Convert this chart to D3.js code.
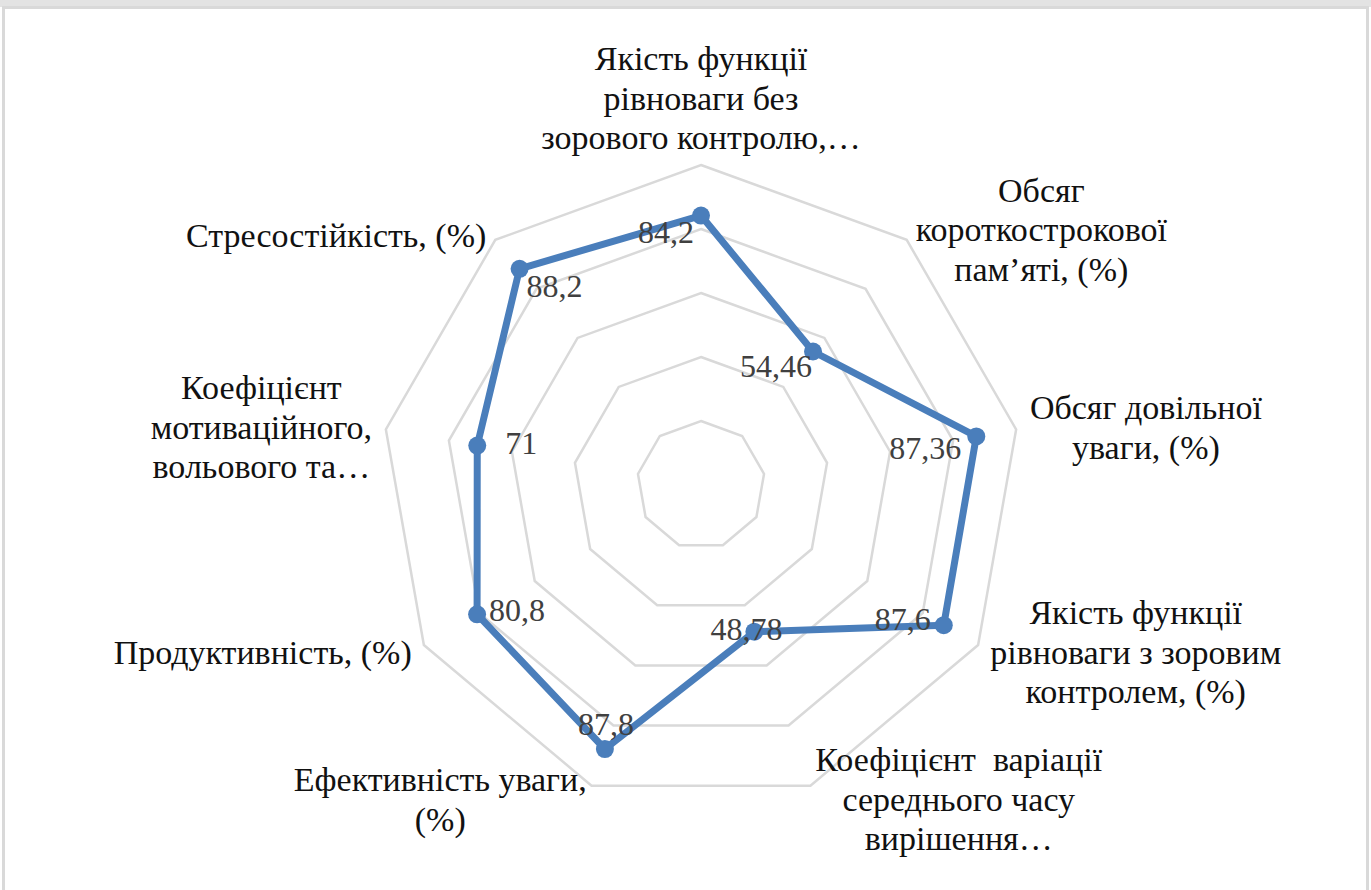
<!DOCTYPE html>
<html>
<head>
<meta charset="utf-8">
<script src="https://cdn.jsdelivr.net/npm/d3@7"></script>
<style>
  html, body { margin: 0; padding: 0; background: #ffffff; }
  svg { display: block; }
  text { white-space: pre; }
</style>
</head>
<body>
<svg id="chart" width="1371" height="890"></svg>
<script>
// categories (clockwise from the top) and the values of the single series
const categories = [
    ["Якість функції", "рівноваги без", "зорового контролю,…"],
    ["Обсяг", "короткострокової", "пам’яті, (%)"],
    ["Обсяг довільної", "уваги, (%)"],
    ["Якість функції", "рівноваги з зоровим", "контролем, (%)"],
    ["Коефіцієнт  варіації", "середнього часу", "вирішення…"],
    ["Ефективність уваги,", "(%)"],
    ["Продуктивність, (%)"],
    ["Коефіцієнт", "мотиваційного,", "вольового та…"],
    ["Стресостійкість, (%)"]
];
const values = [84.2, 54.46, 87.36, 87.6, 48.78, 87.8, 80.8, 71, 88.2];
const valueLabels = ["84,2", "54,46", "87,36", "87,6", "48,78", "87,8", "80,8", "71", "88,2"];
const gridTicks = [20, 40, 60, 80, 100];

// where each data label sits relative to its marker (as placed in the original)
const labelNudge = [
    { dx: -7, dy: 27, anchor: "end" },
    { dx: -1, dy: 25, anchor: "end" },
    { dx: -15, dy: 23, anchor: "end" },
    { dx: -13, dy: 5, anchor: "end" },
    { dx: -8, dy: 8, anchor: "middle" },
    { dx: 1, dy: -14, anchor: "middle" },
    { dx: 12, dy: 7, anchor: "start" },
    { dx: 28, dy: 8, anchor: "start" },
    { dx: 7, dy: 28, anchor: "start" }
];

const svg = d3.select("#chart");
const cx = 701, cy = 485, R = 320;
const serif = "'Liberation Serif', 'Times New Roman', serif";
const blue = "#4a7ebb";

// chart area border
svg.append("rect")
    .attr("x", 0).attr("y", 0)
    .attr("width", 1371).attr("height", 7)
    .attr("fill", "#e3e3e3");
svg.append("rect")
    .attr("x", 3.5).attr("y", 7.5)
    .attr("width", 1364).attr("height", 900)
    .attr("fill", "#ffffff")
    .attr("stroke", "#d9d9d9")
    .attr("stroke-width", 3);

const g = svg.append("g").attr("transform", `translate(${cx}, ${cy})`);

const rScale = d3.scaleLinear().domain([0, 100]).range([0, R]);
const aScale = d3.scaleLinear().domain([0, categories.length]).range([0, 2 * Math.PI]);

const polar = (a, r) => [r * Math.sin(a), -r * Math.cos(a)];

// grid rings (nonagons)
const ringLine = d3.lineRadial()
    .angle((d, i) => aScale(i))
    .radius(d => rScale(d))
    .curve(d3.curveLinearClosed);

g.selectAll("path.ring")
    .data(gridTicks)
    .enter()
    .append("path")
    .attr("class", "ring")
    .attr("d", t => ringLine(categories.map(() => t)))
    .attr("fill", "none")
    .attr("stroke", "#d9d9d9")
    .attr("stroke-width", 2.5);

// the series line
const seriesLine = d3.lineRadial()
    .angle((d, i) => aScale(i))
    .radius(d => rScale(d))
    .curve(d3.curveLinearClosed);

g.append("path")
    .datum(values)
    .attr("d", seriesLine)
    .attr("fill", "none")
    .attr("stroke", blue)
    .attr("stroke-width", 7)
    .attr("stroke-linejoin", "round");

g.selectAll("circle.marker")
    .data(values)
    .enter()
    .append("circle")
    .attr("class", "marker")
    .attr("cx", (d, i) => polar(aScale(i), rScale(d))[0])
    .attr("cy", (d, i) => polar(aScale(i), rScale(d))[1])
    .attr("r", 9)
    .attr("fill", blue);

// data labels
g.selectAll("text.value")
    .data(values)
    .enter()
    .append("text")
    .attr("class", "value")
    .attr("x", (d, i) => polar(aScale(i), rScale(d))[0] + labelNudge[i].dx)
    .attr("y", (d, i) => polar(aScale(i), rScale(d))[1] + labelNudge[i].dy)
    .attr("text-anchor", (d, i) => labelNudge[i].anchor)
    .style("font-family", serif)
    .style("font-size", "32px")
    .attr("fill", "#404040")
    .text((d, i) => valueLabels[i]);

// category labels, boxed outside the outer ring like the original
const pad = 14;
const lineH = 39.5;
categories.forEach((lines, i) => {
    const a = aScale(i);
    const [bx, by] = polar(a, R + pad);
    const label = g.append("text")
        .style("font-family", serif)
        .style("font-size", "34px")
        .attr("fill", "#111111")
        .attr("text-anchor", "middle");
    const spans = lines.map(l => label.append("tspan").text(l));
    const w = d3.max(spans, s => s.node().getComputedTextLength());
    const n = lines.length;
    const s = Math.sin(a);
    let midX, midY;
    if (Math.abs(s) < 1e-6) {
        midX = bx;
        midY = by - n * lineH / 2 + 6;
    } else if (s > 0) {
        midX = bx + w / 2;
        midY = by;
    } else {
        midX = bx - w / 2;
        midY = by + (n === 1 && Math.cos(a) > 0 ? 6 : 0);
    }
    spans.forEach((sp, k) => {
        sp.attr("x", midX)
          .attr("y", midY + (k - (n - 1) / 2) * lineH)
          .attr("dy", "0.35em");
    });
});
</script>
</body>
</html>
